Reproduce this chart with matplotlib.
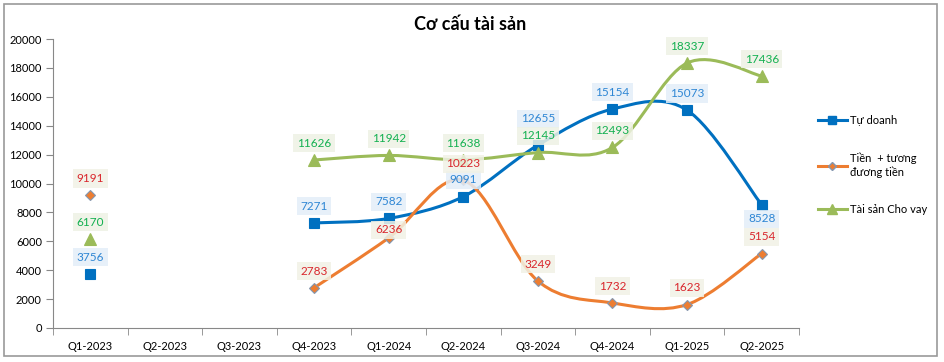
import matplotlib
matplotlib.use("Agg")
import matplotlib.pyplot as plt
import numpy as np
from matplotlib.patches import Rectangle
from matplotlib.path import Path
from matplotlib.patches import PathPatch

categories = ["Q1-2023", "Q2-2023", "Q3-2023", "Q4-2023", "Q1-2024",
              "Q2-2024", "Q3-2024", "Q4-2024", "Q1-2025", "Q2-2025"]
tu_doanh = [3756, None, None, 7271, 7582, 9091, 12655, 15154, 15073, 8528]
tien = [9191, None, None, 2783, 6236, 10223, 3249, 1732, 1623, 5154]
cho_vay = [6170, None, None, 11626, 11942, 11638, 12145, 12493, 18337, 17436]
series_names = ["Tự doanh", "Tiền  + tương\nđương tiền", "Tài sản Cho vay"]

plt.rcParams['font.family'] = ['Lato', 'DejaVu Sans']

fig = plt.figure(figsize=(9.45, 3.62), dpi=100)
ax = fig.add_axes([53/945, 1-328/362, (799-53)/945, (328-39)/362])

def smooth_path(xs, ys):
    pts = np.array(list(zip(xs, ys)), dtype=float)
    n = len(pts)
    verts = [pts[0]]
    codes = [Path.MOVETO]
    for i in range(n-1):
        p0 = pts[i-1] if i > 0 else pts[i]
        p1 = pts[i]
        p2 = pts[i+1]
        p3 = pts[i+2] if i+2 < n else pts[i+1]
        c1 = p1 + (p2 - p0)/6
        c2 = p2 - (p3 - p1)/6
        verts += [c1, c2, p2]
        codes += [Path.CURVE4]*3
    return Path(verts, codes)

styles = [
    dict(color="#0070C0", marker="s", ms=7, mec="#0070C0", txt="#2E86D4", box="#E3EEF8"),
    dict(color="#ED7D31", marker="D", ms=5, mec="#8497B0", txt="#D9262C", box="#F1F2E6"),
    dict(color="#9BBB59", marker="^", ms=8, mec="#9BBB59", txt="#12B050", box="#EEF2E4"),
]
data = [tu_doanh, tien, cho_vay]
# label offsets in points (dy); default above
offsets = {
    (0, 9): -10,
    (0, 6): 19,
    (1, 4): 6,
}

handles = []
for si, (vals, st) in enumerate(zip(data, styles)):
    xs = [i for i, v in enumerate(vals) if v is not None]
    ys = [v for v in vals if v is not None]
    seg_x = [x for x in xs if x >= 3]
    seg_y = [vals[x] for x in seg_x]
    p = smooth_path(seg_x, seg_y)
    ax.add_patch(PathPatch(p, fc="none", ec=st["color"], lw=2.2, zorder=2))
    ax.plot(xs, ys, ls="none", marker=st["marker"], ms=st["ms"],
            mfc=st["color"], mec=st["mec"], mew=0.8, zorder=3)
    handles.append(ax.plot([], [], color=st["color"], lw=2.2, marker=st["marker"],
                           ms=st["ms"]-1, mfc=st["color"], mec=st["mec"])[0])
    for x, y in zip(xs, ys):
        dy = offsets.get((si, x), 12)
        ax.annotate(f"{y}", (x, y), xytext=(0, dy), textcoords="offset points",
                    ha="center", va="center", fontsize=8.5, color=st["txt"],
                    bbox=dict(boxstyle="square,pad=0.3", fc=st["box"], ec="none",
                              alpha=0.85),
                    zorder=4)

ax.set_xlim(-0.5, 9.5)
ax.set_ylim(0, 20000)
ax.set_yticks(range(0, 20001, 2000))
ax.set_yticklabels([str(v) for v in range(0, 20001, 2000)], fontsize=8)
ax.set_xticks(range(10))
ax.set_xticklabels(categories, fontsize=8)
ax.tick_params(axis='x', length=0, pad=9)
ax.set_xticks(np.arange(-0.5, 9.6, 1), minor=True)
ax.tick_params(axis='x', which='minor', length=5, color="#888888", direction="out")
ax.tick_params(axis='y', length=5, color="#888888", pad=3)
for s in ["top", "right"]:
    ax.spines[s].set_visible(False)
for s in ["left", "bottom"]:
    ax.spines[s].set_color("#888888")

fig.text(470/945, 1-25/362, "Cơ cấu tài sản", ha="center", va="center",
         fontsize=13, fontweight="bold")

fig.legend(handles, series_names, loc="upper left",
           bbox_to_anchor=(808/945, 1-105/362), frameon=False,
           fontsize=8, handlelength=2.6, handletextpad=0.3,
           labelspacing=2.4)

fig.add_artist(Rectangle((4/945, 1-356/362), (937-4)/945, (356-4)/362,
                         transform=fig.transFigure, fill=False,
                         ec="#999999", lw=1.2))

fig.savefig("out.png", dpi=100)
